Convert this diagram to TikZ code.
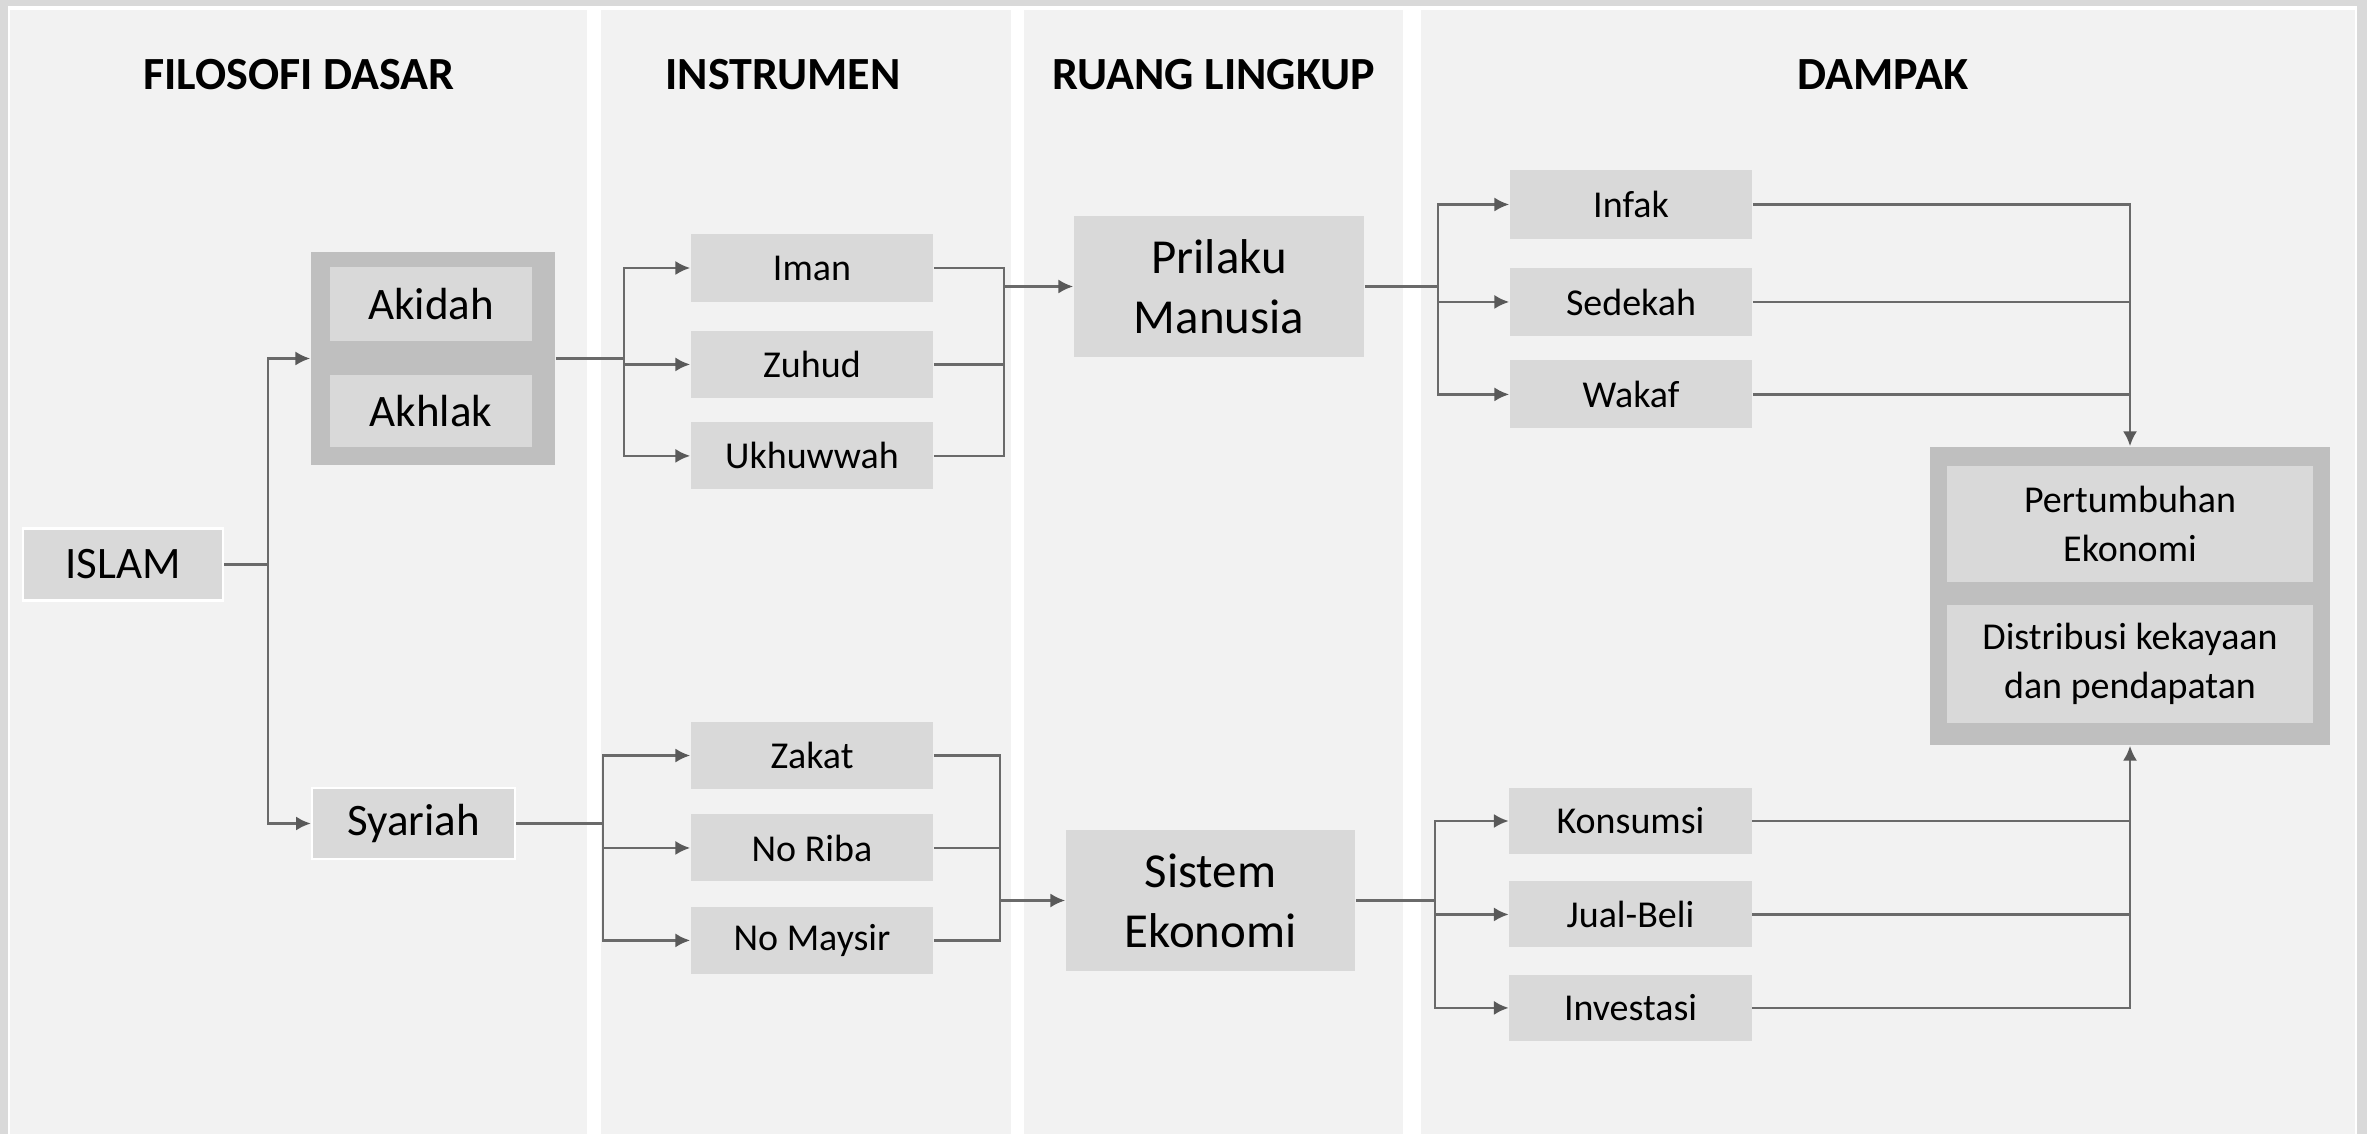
\documentclass[tikz,border=0pt]{standalone}
\usepackage{fontspec}
\setmainfont{Carlito}
\usepackage{xcolor}
\usepackage{tikz}
\usetikzlibrary{arrows.meta, positioning, calc}

\definecolor{framegray}{HTML}{D9D9D9}
\definecolor{panelgray}{HTML}{F2F2F2}
\definecolor{boxgray}{HTML}{D9D9D9}
\definecolor{groupgray}{HTML}{BFBFBF}
\definecolor{linegray}{HTML}{6A6A6A}
\definecolor{tipgray}{HTML}{595959}

\begin{document}
\begin{tikzpicture}[
    x=0.01cm, y=-0.01cm,
    heading/.style={anchor=base, font=\fontsize{13.1}{16}\selectfont\bfseries},
    box/.style={rectangle, fill=boxgray, inner sep=0pt, minimum width=2.42cm, minimum height=0.67cm, font=\fontsize{10.8}{13}\selectfont},
    rootbox/.style={box, draw=white, line width=0.6pt, minimum width=2.0cm, minimum height=0.72cm, font=\fontsize{12.8}{15}\selectfont},
    bigbox/.style={box, align=center, minimum width=2.9cm, minimum height=1.41cm, font=\fontsize{13.9}{17}\selectfont},
    group/.style={rectangle, fill=groupgray, inner sep=0pt},
    outbox/.style={box, align=center, minimum width=3.66cm, font=\fontsize{10.8}{14.1}\selectfont},
    line/.style={draw=linegray, line width=0.75pt},
    arrow/.style={line, -{Latex[length=4.2pt, width=4pt, color=tipgray]}}
    ]
    \useasboundingbox (0,0) rectangle (2367,1134);

    % panels
    \fill[framegray] (0,0) rectangle (2367,1134);
    \fill[white] (8,6) rectangle (2357,1134);
    \fill[panelgray] (10,10) rectangle (587,1134);
    \fill[panelgray] (601,10) rectangle (1011,1134);
    \fill[panelgray] (1024,10) rectangle (1403,1134);
    \fill[panelgray] (1421,10) rectangle (2355,1134);

    \node[heading] (hfilosofi) at (299,90) {FILOSOFI DASAR};
    \node[heading] (hinstrumen) at (783,90) {INSTRUMEN};
    \node[heading] (hruang) at (1214,90) {RUANG LINGKUP};
    \node[heading] (hdampak) at (1883,90) {DAMPAK};

    % filosofi dasar
    \node[rootbox] (islam) at (123,564.5) {ISLAM};
    \node[group, minimum width=2.44cm, minimum height=2.13cm] (akgroup) at (433,358.5) {};
    \node[box, minimum width=2.02cm, minimum height=0.74cm, font=\fontsize{12.8}{15}\selectfont] (akidah) at (431,304) {Akidah};
    \node[box, minimum width=2.02cm, minimum height=0.72cm, font=\fontsize{12.8}{15}\selectfont, below=0.33cm of akidah] (akhlak) {Akhlak};
    \node[rootbox, minimum width=2.03cm, minimum height=0.71cm] (syariah) at (413.5,823.5) {Syariah};

    % instrumen
    \node[box] (iman) at (812,268) {Iman};
    \node[box, below=0.28cm of iman] (zuhud) {Zuhud};
    \node[box, below=0.23cm of zuhud] (ukhuwwah) {Ukhuwwah};
    \node[box] (zakat) at (812,755.5) {Zakat};
    \node[box, below=0.24cm of zakat] (noriba) {No Riba};
    \node[box, below=0.24cm of noriba] (nomaysir) {No Maysir};

    % ruang lingkup
    \node[bigbox] (prilaku) at (1219,286.5) {Prilaku\\Manusia};
    \node[bigbox, minimum width=2.89cm] (sistem) at (1210.5,900.5) {Sistem\\Ekonomi};

    % dampak
    \node[box, minimum height=0.68cm] (infak) at (1631,204.5) {Infak};
    \node[box, minimum height=0.68cm, below=0.28cm of infak] (sedekah) {Sedekah};
    \node[box, minimum height=0.68cm, below=0.23cm of sedekah] (wakaf) {Wakaf};
    \node[box, minimum height=0.66cm] (konsumsi) at (1630.5,821) {Konsumsi};
    \node[box, minimum height=0.66cm, below=0.26cm of konsumsi] (jualbeli) {Jual-Beli};
    \node[box, minimum height=0.66cm, below=0.26cm of jualbeli] (investasi) {Investasi};

    \node[group, minimum width=4.0cm, minimum height=2.98cm] (outgroup) at (2130,596) {};
    \node[outbox, minimum height=1.16cm] (pertumbuhan) at (2130,524) {Pertumbuhan\\Ekonomi};
    \node[outbox, minimum height=1.18cm] (distribusi) at (2130,664) {Distribusi kekayaan\\dan pendapatan};

    % joints
    \coordinate (splitA) at (268,0);
    \coordinate (splitB) at (624,0);
    \coordinate (splitS) at (603,0);
    \coordinate (mergeA) at (1004,286.5);
    \coordinate (mergeB) at (1000,900.5);
    \coordinate (splitC) at (1438,0);
    \coordinate (splitD) at (1435,0);

    % connectors
    \draw[arrow] (islam.east) -- (islam.east -| splitA) |- (akgroup.west);
    \draw[arrow] (islam.east -| splitA) |- (syariah.west);

    \draw[arrow] (akgroup.east) -- (akgroup.east -| splitB) |- (iman.west);
    \draw[arrow] (akgroup.east -| splitB) |- (zuhud.west);
    \draw[arrow] (akgroup.east -| splitB) |- (ukhuwwah.west);

    \draw[arrow] (syariah.east) -- (syariah.east -| splitS) |- (zakat.west);
    \draw[arrow] (syariah.east -| splitS) |- (noriba.west);
    \draw[arrow] (syariah.east -| splitS) |- (nomaysir.west);

    \draw[line] (iman.east) -| (mergeA);
    \draw[line] (zuhud.east) -| (mergeA);
    \draw[line] (ukhuwwah.east) -| (mergeA);
    \draw[arrow] (mergeA) -- (mergeA -| prilaku.west);

    \draw[line] (zakat.east) -| (mergeB);
    \draw[line] (noriba.east) -| (mergeB);
    \draw[line] (nomaysir.east) -| (mergeB);
    \draw[arrow] (mergeB) -- (mergeB -| sistem.west);

    \draw[arrow] (prilaku.east) -- (prilaku.east -| splitC) |- (infak.west);
    \draw[arrow] (prilaku.east -| splitC) |- (sedekah.west);
    \draw[arrow] (prilaku.east -| splitC) |- (wakaf.west);

    \draw[arrow] (sistem.east) -- (sistem.east -| splitD) |- (konsumsi.west);
    \draw[arrow] (sistem.east -| splitD) |- (jualbeli.west);
    \draw[arrow] (sistem.east -| splitD) |- (investasi.west);

    \draw[arrow] (infak.east) -| (outgroup.north);
    \draw[line] (sedekah.east) -- (sedekah.east -| outgroup.north);
    \draw[line] (wakaf.east) -- (wakaf.east -| outgroup.north);

    \draw[arrow] (investasi.east) -| (outgroup.south);
    \draw[line] (konsumsi.east) -- (konsumsi.east -| outgroup.south);
    \draw[line] (jualbeli.east) -- (jualbeli.east -| outgroup.south);
  \end{tikzpicture}
\end{document}
